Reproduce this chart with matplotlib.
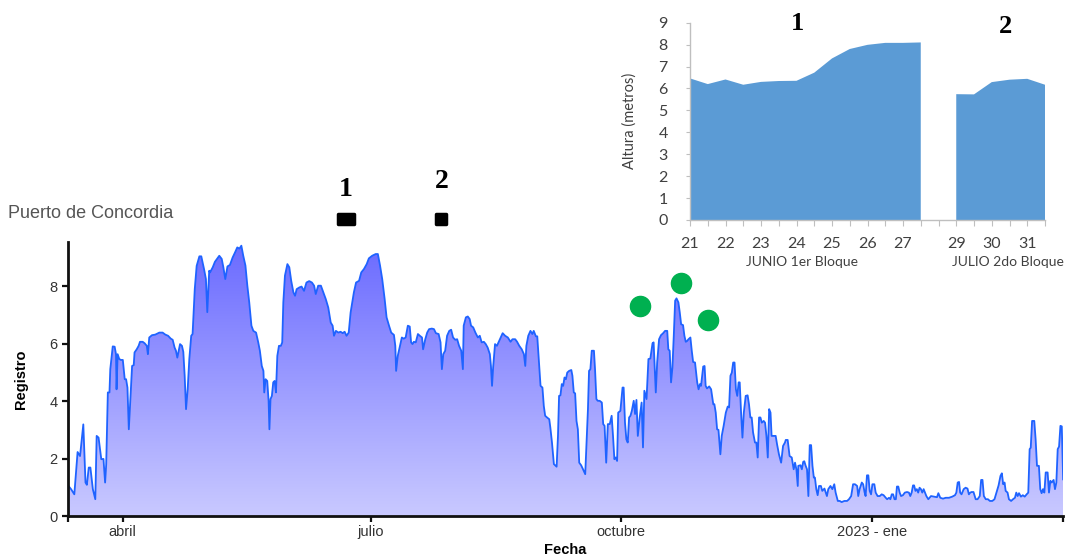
import numpy as np
import pandas as pd
import matplotlib
matplotlib.use("Agg")
import matplotlib.pyplot as plt
import matplotlib.dates as mdates
from matplotlib.colors import LinearSegmentedColormap
from matplotlib.markers import MarkerStyle
from matplotlib.path import Path

# Registro diario del puerto (dias desde el 12/03/2022)
INICIO = pd.Timestamp("2022-03-12")
dia = [
    0.0, 1.1, 2.3, 3.5, 4.4, 5.6, 6.4, 6.9, 7.6, 8.2, 9.1, 10.0, 10.5, 11.2, 12.2, 13.0, 13.6, 14.0,
    14.6, 15.2, 15.5, 16.4, 17.1, 17.6, 17.8, 18.2, 18.8, 19.4, 20.1, 20.8, 21.3, 21.8, 22.3, 23.5,
    24.1, 24.4, 25.2, 25.9, 26.4, 27.4, 28.1, 28.9, 29.3, 29.8, 30.8, 32.0, 33.5, 34.7, 35.7, 36.7,
    37.7, 38.4, 39.1, 39.6, 40.1, 40.6, 41.1, 41.8, 42.3, 42.8, 43.3, 43.9, 44.5, 45.2, 45.7, 46.5,
    47.2, 48.2, 48.9, 49.9, 50.6, 51.1, 51.8,
    52.1, 53.1, 53.9, 55.5, 56.4, 57.0, 57.7, 58.5, 59.4, 60.4, 61.3, 62.1, 62.9, 63.6, 64.3, 65.1,
    65.8, 66.5, 67.3, 68.0, 69.0, 69.8, 70.4, 71.1, 71.7, 72.0, 72.5, 73.1, 73.6, 73.9, 74.3, 74.8,
    75.3, 75.8, 76.3, 76.8, 77.4, 78.1, 78.6, 79.0, 79.6, 80.5, 81.2, 81.9, 82.7, 83.3, 83.9, 84.9,
    85.7, 86.6, 87.5, 88.5, 89.5, 90.3, 90.9, 91.8, 92.8, 93.7, 94.6, 95.5, 96.4, 97.1, 97.6, 98.3,
    99.2, 100.0, 100.8, 101.5, 102.2, 103.0, 103.7,
    104.9, 105.7, 106.8, 107.6, 108.6, 109.6, 110.4, 111.6, 112.9, 113.7, 114.5, 115.3, 116.2, 116.9,
    117.8, 118.6, 119.6, 120.1, 120.4, 121.0, 121.8, 122.5, 123.2, 123.9, 124.7, 125.4, 125.9, 126.4,
    126.9, 127.6, 128.4, 129.1, 129.9, 130.3, 131.1, 131.8, 132.5, 133.5, 134.3, 135.0, 136.0, 136.7,
    137.2, 137.7, 138.4, 139.1, 139.9, 140.6, 141.3, 142.1, 142.8, 143.5, 144.3, 144.9, 145.2, 146.0,
    146.7, 147.4, 147.9, 148.7, 149.5, 150.4, 151.1, 151.8, 152.6, 153.3, 154.0, 154.8, 155.2, 155.6,
    156.0, 156.7, 157.4,
    158.5, 159.5, 160.4, 161.4, 162.4, 163.1, 164.1, 164.8, 165.6, 166.5, 167.3, 167.8, 168.2, 168.9,
    169.7, 170.4, 170.9, 171.7, 172.2, 172.9, 173.4, 174.1, 174.6, 175.1, 175.8, 176.6, 177.0, 177.6,
    178.3, 179.3, 179.8, 180.2, 180.7, 181.2, 181.7, 182.2, 182.7, 183.2, 183.9, 184.7, 185.1, 185.6,
    186.1, 186.6, 187.1, 187.6, 188.3, 189.0, 189.8, 190.3, 190.8, 191.2, 191.7, 192.2, 193.0, 193.4,
    193.9, 194.4, 195.1, 195.9, 196.4, 196.9, 197.5, 198.1, 198.8, 199.5, 200.0, 200.5, 201.0, 201.5,
    201.9, 202.7, 203.5, 203.9, 204.4, 204.9, 205.4, 205.9, 206.4, 206.9, 207.6, 208.1, 208.6, 209.1,
    209.8, 210.5,
    211.0, 211.5, 212.3, 213.0, 213.7, 214.5, 214.9, 215.7, 216.2, 216.9, 217.6, 218.4, 219.1, 219.9,
    220.3, 220.8, 221.3, 221.8, 222.3, 222.8, 223.3, 224.0, 224.5, 225.0, 225.7, 226.2, 226.7, 227.2,
    227.7, 228.4, 228.9, 229.4, 230.1, 230.9, 231.4, 231.9, 232.3, 233.1, 233.6, 234.0, 234.5, 235.3,
    236.0, 236.8, 237.2, 237.7, 238.2, 238.7, 239.4, 239.9, 240.6, 241.4, 242.1, 242.6, 243.1, 243.6,
    244.1, 244.6, 245.1, 245.6, 246.1, 246.5, 247.0, 247.5, 248.0, 248.7, 249.4, 249.9, 250.4, 250.9,
    251.4, 252.1, 252.6, 253.1, 253.6, 254.1, 254.6, 255.3, 255.8, 256.3, 256.8, 257.3, 257.8, 258.2,
    259.0, 259.7, 260.2, 260.9, 261.7, 262.4, 263.1,
    263.4, 264.1, 264.8, 265.6, 266.3, 266.8, 267.3, 267.8, 268.0, 268.8, 269.3, 269.8, 270.2, 270.7,
    271.2, 271.7, 272.2, 272.7, 273.2, 273.7, 274.1, 274.6, 275.1, 275.6, 276.3, 276.8, 277.6, 278.1,
    278.5, 279.0, 279.8, 280.5, 281.2, 281.7, 282.5, 283.2, 283.9, 284.9, 285.9, 286.6, 287.4, 288.1,
    288.8, 289.6, 290.0, 290.5, 291.3, 291.8, 292.3, 292.7, 293.2, 293.7, 294.2, 294.7, 295.2, 295.9,
    296.4, 297.1, 297.9, 298.6, 299.3, 300.1, 300.6, 301.3, 301.8, 302.3, 302.8, 303.3, 303.8, 304.2,
    304.7, 305.2, 305.7, 306.4, 307.1, 307.9, 308.6, 309.1, 309.6, 310.1, 310.5, 311.0, 311.5, 312.0,
    312.5, 313.0, 313.5, 314.0, 314.5, 315.0, 315.7, 316.7,
    317.9, 318.9, 319.4, 320.1, 321.1, 322.1, 323.3, 324.5, 325.5, 326.0, 326.5, 327.0, 327.4, 327.9,
    328.7, 329.4, 330.1, 330.6, 331.1, 331.6, 332.3, 333.1, 333.8, 334.6, 335.1, 335.6, 336.1, 336.8,
    337.6, 338.3, 339.2, 340.0, 340.7, 341.5, 342.2, 342.7, 343.2, 343.7, 344.1, 344.8, 345.3, 346.1,
    346.8, 347.5, 348.0, 348.5, 349.0, 349.7, 350.4, 351.1, 351.8, 352.4, 352.9, 353.3, 353.8, 354.6,
    355.1, 355.6, 356.3, 356.8, 357.3, 357.8, 358.3, 358.8, 359.5, 360.0, 360.5, 361.0, 361.7, 362.2,
    362.7, 363.2, 363.7, 364.2, 364.7, 365.2,
]
registro = [
    1.08, 0.95, 0.77, 2.24, 2.10, 3.20, 1.18, 1.10, 1.70, 1.70, 0.95, 0.60, 2.80, 2.74, 1.99, 2.00, 1.18, 1.81,
    4.31, 4.31, 5.12, 5.91, 5.90, 5.64, 4.42, 5.64, 5.47, 5.44, 5.44, 4.77, 4.77, 4.48, 3.03, 5.23,
    5.26, 5.70, 5.81, 5.93, 6.07, 6.07, 6.02, 5.93, 5.64, 6.22, 6.30, 6.32, 6.39, 6.39, 6.32, 6.28,
    6.18, 6.14, 5.87, 5.76, 5.52, 5.76, 5.99, 5.93, 5.72, 4.89, 3.73, 4.42, 5.47, 6.28, 6.34, 7.90,
    8.71, 9.04, 9.04, 8.60, 8.25, 7.10, 8.54,
    8.48, 8.66, 8.85, 9.06, 8.95, 8.66, 8.25, 8.69, 8.74, 9.00, 9.18, 9.35, 9.31, 9.41, 9.06, 8.72,
    8.02, 7.44, 6.63, 6.45, 6.39, 6.05, 5.76, 5.23, 5.06, 4.31, 4.77, 4.71, 4.02, 3.03, 4.08, 4.19,
    4.66, 4.71, 4.31, 5.58, 5.93, 5.93, 6.05, 7.44, 8.37, 8.77, 8.66, 8.19, 7.79, 7.67, 7.90, 7.96,
    7.99, 7.84, 8.13, 8.18, 8.13, 8.02, 7.73, 8.02, 8.02, 7.79, 7.55, 7.26, 6.74, 6.63, 6.28, 6.45,
    6.39, 6.42, 6.37, 6.42, 6.28, 6.39, 7.09,
    7.79, 8.13, 8.19, 8.48, 8.60, 8.77, 8.97, 9.06, 9.12, 9.12, 8.72, 8.25, 7.55, 6.92,
    6.63, 6.39, 6.31, 5.93, 5.06, 5.58, 5.93, 6.22, 6.18, 6.22, 6.63, 6.60, 6.05, 5.99,
    6.07, 6.05, 6.34, 6.28, 6.22, 5.81, 6.16, 6.39, 6.51, 6.53, 6.51, 6.37, 6.34, 6.05,
    5.12, 5.64, 5.76, 6.28, 6.45, 6.49, 6.22, 6.14, 6.16, 5.93, 5.76, 5.12, 6.63, 6.92,
    6.95, 6.86, 6.63, 6.57, 6.39, 6.22, 6.28, 6.05, 6.07, 5.99, 5.87, 5.64, 5.23, 4.54,
    5.18, 5.99, 5.93,
    6.16, 6.37, 6.28, 6.22, 6.07, 6.16, 6.16, 6.07, 5.93, 5.81, 5.64, 5.23, 5.93, 6.28,
    6.45, 6.34, 6.45, 6.26, 6.26, 5.23, 4.54, 4.48, 3.84, 3.50, 3.44, 3.38, 3.09, 2.57,
    1.82, 1.73, 2.80, 4.19, 4.21, 4.60, 4.54, 4.83, 4.77, 5.00, 5.06, 5.09, 4.89, 4.31,
    4.28, 3.32, 3.03, 1.87, 1.78, 1.64, 1.47, 2.57, 3.73, 5.06, 5.12, 5.76, 5.76, 5.12,
    4.08, 4.02, 4.02, 3.96, 3.21, 3.15, 1.87, 3.21, 3.21, 3.50, 2.80, 1.99, 2.05, 1.93,
    3.61, 3.67, 4.48, 4.48, 3.26, 2.68, 2.57, 3.44, 3.50, 3.67, 4.02, 3.56, 4.05, 2.80,
    3.44, 3.96,
    2.40, 4.37, 4.08, 5.47, 5.49, 6.02, 6.05, 4.31, 5.35, 6.16, 6.30, 6.37, 6.45, 6.45,
    5.81, 5.76, 4.66, 5.18, 6.28, 7.50, 7.58, 7.44, 7.09, 6.68, 6.65, 6.28, 6.07, 6.10,
    6.16, 6.22, 5.76, 5.37, 5.35, 4.66, 4.42, 4.60, 4.54, 5.21, 5.23, 4.54, 4.45, 4.52,
    4.42, 3.90, 3.90, 3.61, 3.03, 3.01, 2.16, 2.80, 3.15, 3.61, 3.82, 3.79, 4.89, 5.00,
    5.35, 5.35, 4.42, 4.19, 4.66, 4.66, 3.61, 2.74, 3.61, 4.19, 4.21, 3.90, 3.44, 3.44,
    2.92, 2.57, 2.57, 2.05, 3.44, 3.44, 3.26, 3.32, 3.26, 2.80, 2.05, 3.73, 3.61, 2.80,
    2.80, 2.80, 2.51, 2.16, 1.87, 2.45, 2.57,
    2.66, 2.66, 2.10, 2.05, 1.64, 1.87, 1.64, 1.06, 1.76, 1.78, 1.64, 1.90, 1.92, 1.76,
    1.64, 0.71, 2.48, 2.48, 1.76, 1.35, 1.35, 0.95, 0.74, 1.06, 1.06, 0.89, 0.97, 0.83,
    0.71, 0.95, 1.06, 0.95, 1.12, 0.83, 0.54, 0.54, 0.50, 0.54, 0.54, 0.60, 0.71, 1.12,
    1.12, 1.06, 0.71, 0.95, 1.18, 1.12, 0.85, 0.71, 1.43, 1.43, 0.89, 0.77, 1.12, 1.12,
    0.83, 0.71, 0.71, 0.77, 0.74, 0.65, 0.60, 0.65, 0.60, 0.77, 0.77, 0.60, 0.60, 1.04,
    1.04, 0.83, 0.71, 0.74, 0.83, 0.85, 0.83, 0.71, 0.83, 1.08, 1.08, 0.89, 0.95, 0.83,
    1.00, 0.95, 0.83, 0.95, 0.83, 0.71, 0.60, 0.71,
    0.69, 0.67, 0.81, 0.65, 0.62, 0.65, 0.65, 0.69, 0.74, 0.83, 1.18, 1.20, 0.83, 0.77,
    0.95, 1.00, 0.97, 0.77, 0.83, 0.85, 0.85, 0.60, 0.60, 0.71, 1.27, 1.27, 0.71, 0.60,
    0.60, 0.54, 0.54, 0.60, 0.83, 1.08, 1.41, 1.50, 1.12, 1.18, 0.89, 0.83, 0.60, 0.54,
    0.60, 0.65, 0.83, 0.71, 0.81, 0.69, 0.74, 0.69, 0.77, 0.83, 2.34, 2.39, 3.32, 3.32,
    2.68, 1.76, 1.76, 0.95, 0.81, 0.95, 0.83, 1.53, 1.53, 0.83, 1.24, 1.18, 1.27, 0.95,
    1.18, 2.34, 2.43, 3.15, 3.13, 1.29,
]

meses_fecha = ["2022-04-01", "2022-07-01", "2022-10-01", "2023-01-01"]
meses_nombre = ["abril", "julio", "octubre", "2023 - ene"]

# Bloques marcados sobre la serie
bloques_fecha = ["2022-06-22", "2022-07-27"]
bloques_nombre = ["1", "2"]
bloques_nivel = 10.35

# Picos de octubre/noviembre
picos_fecha = ["2022-10-08", "2022-10-23", "2022-11-02"]
picos_valor = [7.32, 8.12, 6.83]

# Detalle de los bloques (altura en metros)
detalle_etiquetas = ["21", "", "22", "", "23", "", "24", "", "25", "", "26", "", "27", "",
                     "", "29", "", "30", "", "31", ""]
detalle_altura = [6.46, 6.20, 6.41, 6.17, 6.30, 6.34, 6.35, 6.72, 7.37, 7.80, 7.99, 8.08, 8.08, 8.10,
                  np.nan, 5.74, 5.73, 6.29, 6.40, 6.44, 6.17]
detalle_bloques = ["JUNIO 1er Bloque", "JULIO 2do Bloque"]

fechas = INICIO + pd.to_timedelta(dia, unit="D")
x = mdates.date2num(fechas)
y = np.array(registro)

fig = plt.figure(figsize=(10.7, 5.58), dpi=100)
ax = fig.add_axes([0.0636, 0.0744, 0.9300, 0.4920])

ymax = 9.54
x0 = mdates.date2num(INICIO)
x1 = mdates.date2num(INICIO + pd.Timedelta(days=365.2))

# relleno con degradado vertical recortado bajo la curva
area = ax.fill_between(x, y, 0, facecolor="none", edgecolor="none")
grad = LinearSegmentedColormap.from_list("reg", ["#C9C9FF", "#6A6AFF"])
img = ax.imshow(np.linspace(0, 1, 256).reshape(-1, 1), cmap=grad, origin="lower",
                extent=[x0, x1, 0, ymax], aspect="auto", zorder=1)
img.set_clip_path(area.get_paths()[0], transform=ax.transData)
ax.plot(x, y, color="#1F63FF", lw=1.3, zorder=2)

ax.set_xlim(x0, x1)
ax.set_ylim(0, ymax)
for s in ["top", "right"]:
    ax.spines[s].set_visible(False)
for s in ["left", "bottom"]:
    ax.spines[s].set_linewidth(2)
    ax.spines[s].set_color("#111111")

ticks = [x0] + list(mdates.date2num(pd.to_datetime(meses_fecha))) + [x1]
ax.set_xticks(ticks)
ax.set_xticklabels([""] + meses_nombre + [""])
ax.set_yticks([0, 2, 4, 6, 8])
ax.tick_params(axis="both", length=4, width=1.6, color="#111111", labelsize=10.5,
               labelcolor="#333333")
ax.tick_params(axis="x", pad=2)
for lab in ax.get_xticklabels() + ax.get_yticklabels():
    lab.set_family("Liberation Sans")

ax.set_xlabel("Fecha", fontsize=10.5, fontweight="bold", family="Liberation Sans")
ax.set_ylabel("Registro", fontsize=10.5, fontweight="bold", family="Liberation Sans")
ax.xaxis.set_label_coords(0.5, -0.098)
ax.yaxis.set_label_coords(-0.040, 0.5)

fig.text(8 / 1070, 1 - 214 / 558, "Puerto de Concordia", fontsize=13, color="#555555",
         family="Liberation Sans", va="center", ha="left")

# marcas negras de los bloques 1 y 2
caja = MarkerStyle(Path([(-1, -0.55), (1, -0.55), (1, 0.55), (-1, 0.55), (-1, -0.55)],
                        closed=True), joinstyle="round")
cuadro = MarkerStyle(Path([(-1, -0.9), (1, -0.9), (1, 0.9), (-1, 0.9), (-1, -0.9)],
                          closed=True), joinstyle="round")
bx = mdates.date2num(pd.to_datetime(bloques_fecha))
for xi, m, ms, nombre, dy in zip(bx, [caja, cuadro], [12, 7.5], bloques_nombre, [1.0, 1.3]):
    ax.plot([xi], [bloques_nivel], marker=m, ms=ms, mfc="black", mec="black", mew=2.5,
            clip_on=False, zorder=5)
    ax.text(xi, bloques_nivel + dy, nombre, fontsize=20, fontweight="bold",
            family="Liberation Serif", ha="center", va="center", clip_on=False)

px = mdates.date2num(pd.to_datetime(picos_fecha))
ax.plot(px, picos_valor, "o", ms=14.5, color="#00B050", zorder=5, clip_on=False)

# panel de detalle
ax2 = fig.add_axes([690 / 1070, 338 / 558, 355 / 1070, 197.3 / 558])
pos = np.arange(len(detalle_altura))
ax2.fill_between(pos, detalle_altura, 0, color="#5B9BD5", lw=0)
ax2.set_xlim(0, len(pos) - 1)
ax2.set_ylim(0, 9)
for s in ["top", "right"]:
    ax2.spines[s].set_visible(False)
for s in ["left", "bottom"]:
    ax2.spines[s].set_color("#BFBFBF")
    ax2.spines[s].set_linewidth(1)
ax2.set_xticks(pos)
ax2.set_xticklabels(detalle_etiquetas)
ax2.set_yticks(range(10))
ax2.tick_params(axis="x", length=4, color="#BFBFBF", labelsize=11.5, labelcolor="#404040", pad=8)
ax2.tick_params(axis="y", length=3, color="#BFBFBF", labelsize=11.5, labelcolor="#404040", pad=13)
for lab in ax2.get_xticklabels() + ax2.get_yticklabels():
    lab.set_family("Lato")
ax2.set_ylabel("Altura (metros)", fontsize=10.5, color="#404040", family="Lato")
ax2.yaxis.set_label_coords(-0.15, 0.5)
ax2.patch.set_alpha(0)

for xc, txt in zip([6.3, 17.9], detalle_bloques):
    ax2.text(xc, -1.92, txt, fontsize=10, color="#404040", family="Lato",
             ha="center", va="center", clip_on=False)
for xc, yc, txt in zip([6.07, 17.8], [8.97, 8.81], bloques_nombre):
    ax2.text(xc, yc, txt, fontsize=19, fontweight="bold", family="Liberation Serif",
             ha="center", va="center", clip_on=False)

fig.savefig("out.png", dpi=100)
